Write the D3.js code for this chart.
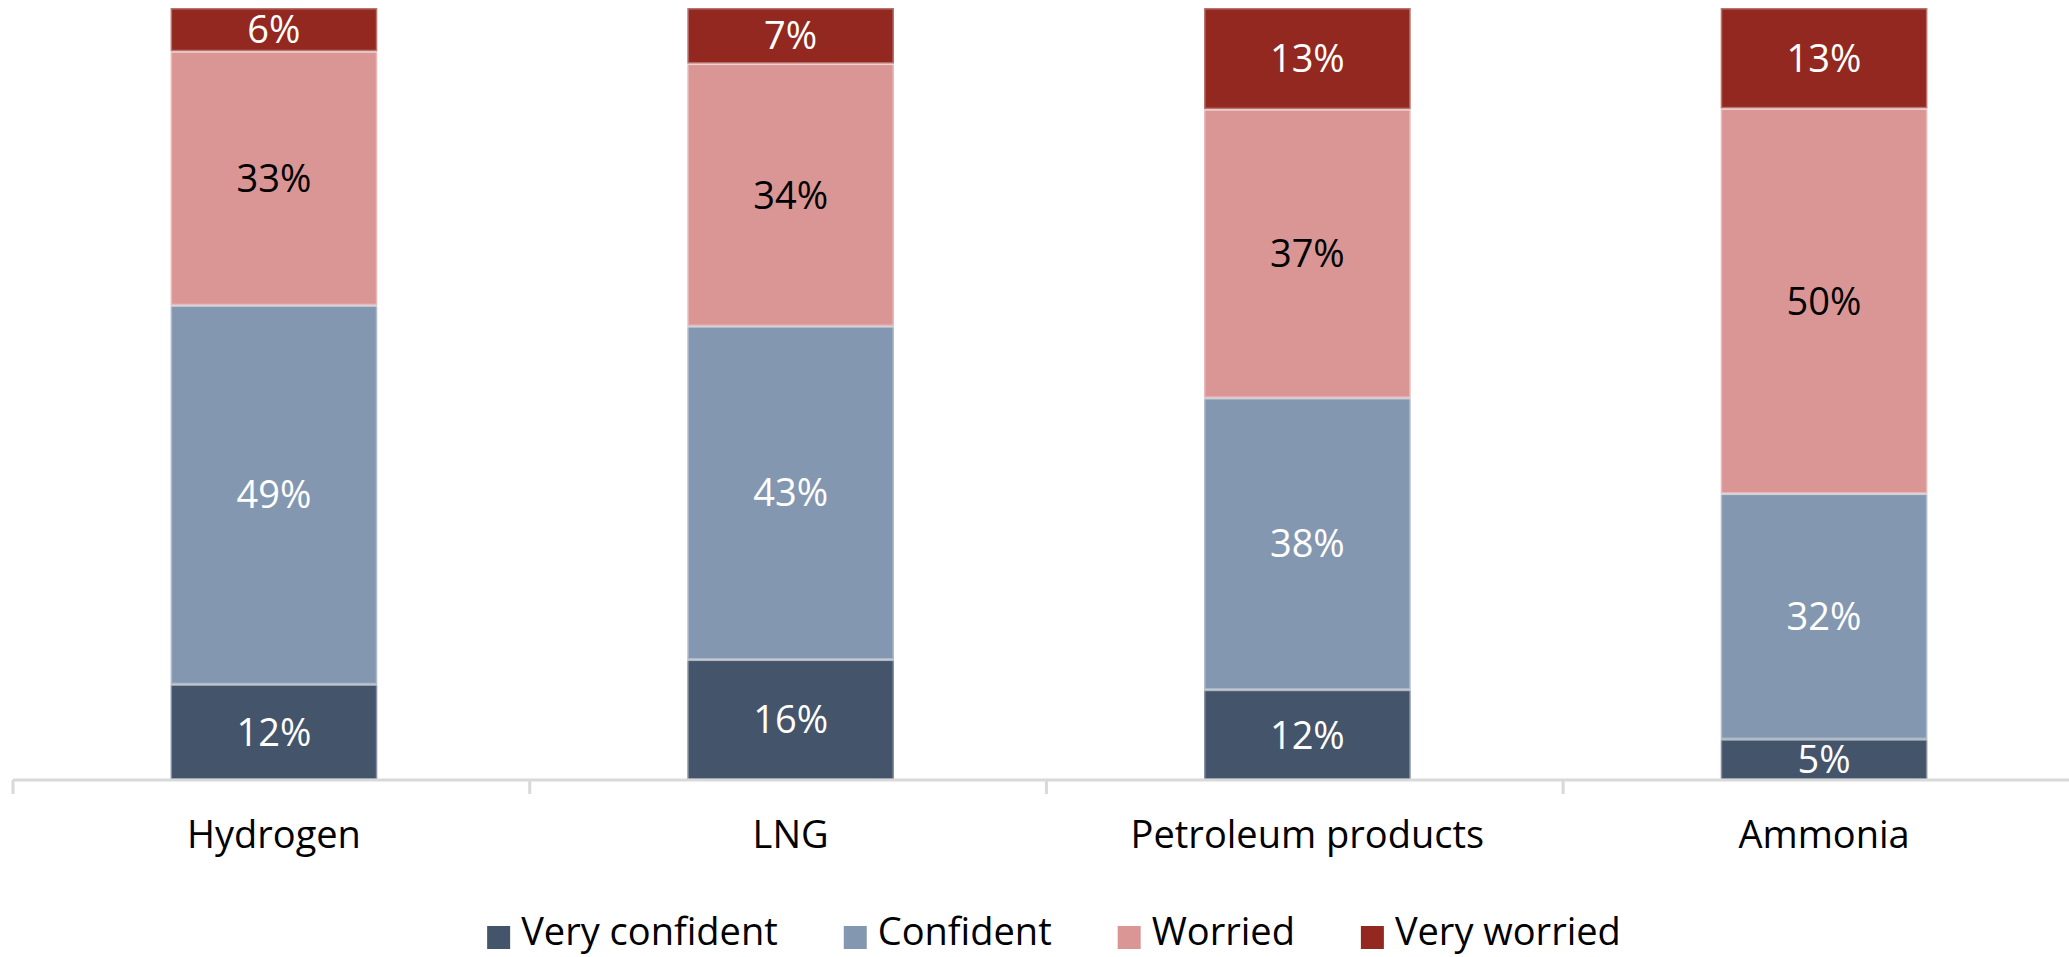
<!doctype html>
<html lang="en">
<head>
    <meta charset="UTF-8">
    <title>Confidence by fuel</title>
    <style>
        body { margin: 0; background: #fff; }
        text { font-family: "Open Sans", sans-serif; }
    </style>
</head>
<body>
    <svg width="2069" height="957"></svg>
    <script src="https://cdn.jsdelivr.net/npm/d3@7/dist/d3.min.js"></script>
    <script>
        // data (shares in %)
        const fuels = ["Hydrogen", "LNG", "Petroleum products", "Ammonia"];
        const seriesNames = ["Very confident", "Confident", "Worried", "Very worried"];
        const veryConfident = [12.4, 15.6, 11.7, 5.3];
        const confident = [49.1, 43.2, 37.8, 31.8];
        const worried = [32.9, 34.0, 37.4, 49.9];
        const veryWorried = [5.6, 7.2, 13.1, 13.0];
        const colors = ["#44546a", "#8497b0", "#da9694", "#922820"];
        const labelColors = ["#fff", "#fff", "#000", "#fff"];

        const rows = fuels.map((f, i) => ({
            fuel: f,
            "Very confident": veryConfident[i],
            "Confident": confident[i],
            "Worried": worried[i],
            "Very worried": veryWorried[i]
        }));

        const svg = d3.select("svg"),
            margin = {top: 8, left: 13, right: -16, bottom: 177},
            width = +svg.attr("width") - margin.left - margin.right,
            height = +svg.attr("height") - margin.top - margin.bottom,
            g = svg.append("g").attr("transform", "translate(" + margin.left + "," + margin.top + ")");

        const x = d3.scaleBand().domain(fuels).range([0, width]).paddingInner(0.6).paddingOuter(0.305);
        const y = d3.scaleLinear().domain([0, 100]).range([height, 0]);
        const color = d3.scaleOrdinal().domain(seriesNames).range(colors);

        const stacked = d3.stack().keys(seriesNames)(rows);

        const layer = g.selectAll(".layer")
            .data(stacked)
            .enter().append("g")
            .attr("class", "layer")
            .attr("fill", d => color(d.key));

        layer.selectAll("rect")
            .data(d => d)
            .enter().append("rect")
            .attr("x", d => x(d.data.fuel))
            .attr("y", d => y(d[1]))
            .attr("width", x.bandwidth())
            .attr("height", d => y(d[0]) - y(d[1]))
            .attr("stroke", "#fff")
            .attr("stroke-opacity", 0.35)
            .attr("stroke-width", 3);

        layer.selectAll("text")
            .data((d, i) => d.map(p => ({p: p, k: i})))
            .enter().append("text")
            .attr("x", d => x(d.p.data.fuel) + x.bandwidth() / 2)
            .attr("y", d => (y(d.p[0]) + y(d.p[1])) / 2)
            .attr("dy", "0.36em")
            .attr("text-anchor", "middle")
            .attr("font-size", 38)
            .attr("fill", d => labelColors[d.k])
            .text(d => Math.round(d.p[1] - d.p[0]) + "%");

        // category axis: line + ticks between categories
        const step = x.step();
        const axis = g.append("g").attr("transform", "translate(0," + height + ")");
        axis.append("line")
            .attr("x1", 0).attr("x2", width)
            .attr("stroke", "#d9d9d9").attr("stroke-width", 3);
        axis.selectAll(".tick")
            .data(d3.range(fuels.length + 1))
            .enter().append("line")
            .attr("x1", i => i * step).attr("x2", i => i * step)
            .attr("y1", 0).attr("y2", 14)
            .attr("stroke", "#d9d9d9").attr("stroke-width", 3);
        axis.selectAll(".cat")
            .data(fuels)
            .enter().append("text")
            .attr("x", d => x(d) + x.bandwidth() / 2)
            .attr("y", 68)
            .attr("text-anchor", "middle")
            .attr("font-size", 38)
            .attr("fill", "#000")
            .text(d => d);

        // legend, laid out from measured text widths
        const gap = 66;
        const legend = svg.append("g");
        let cx = 0;
        seriesNames.forEach(name => {
            const it = legend.append("g");
            it.append("rect").attr("width", 23).attr("height", 23).attr("y", -8).attr("fill", color(name));
            const t = it.append("text").attr("x", 34).attr("y", 11).attr("font-size", 38).attr("fill", "#000").text(name);
            it.attr("transform", "translate(" + cx + ",0)");
            cx += 34 + t.node().getComputedTextLength() + gap;
        });
        const total = cx - gap;
        legend.attr("transform", "translate(" + (1054 - total / 2) + ",934)");
    </script>
</body>
</html>
